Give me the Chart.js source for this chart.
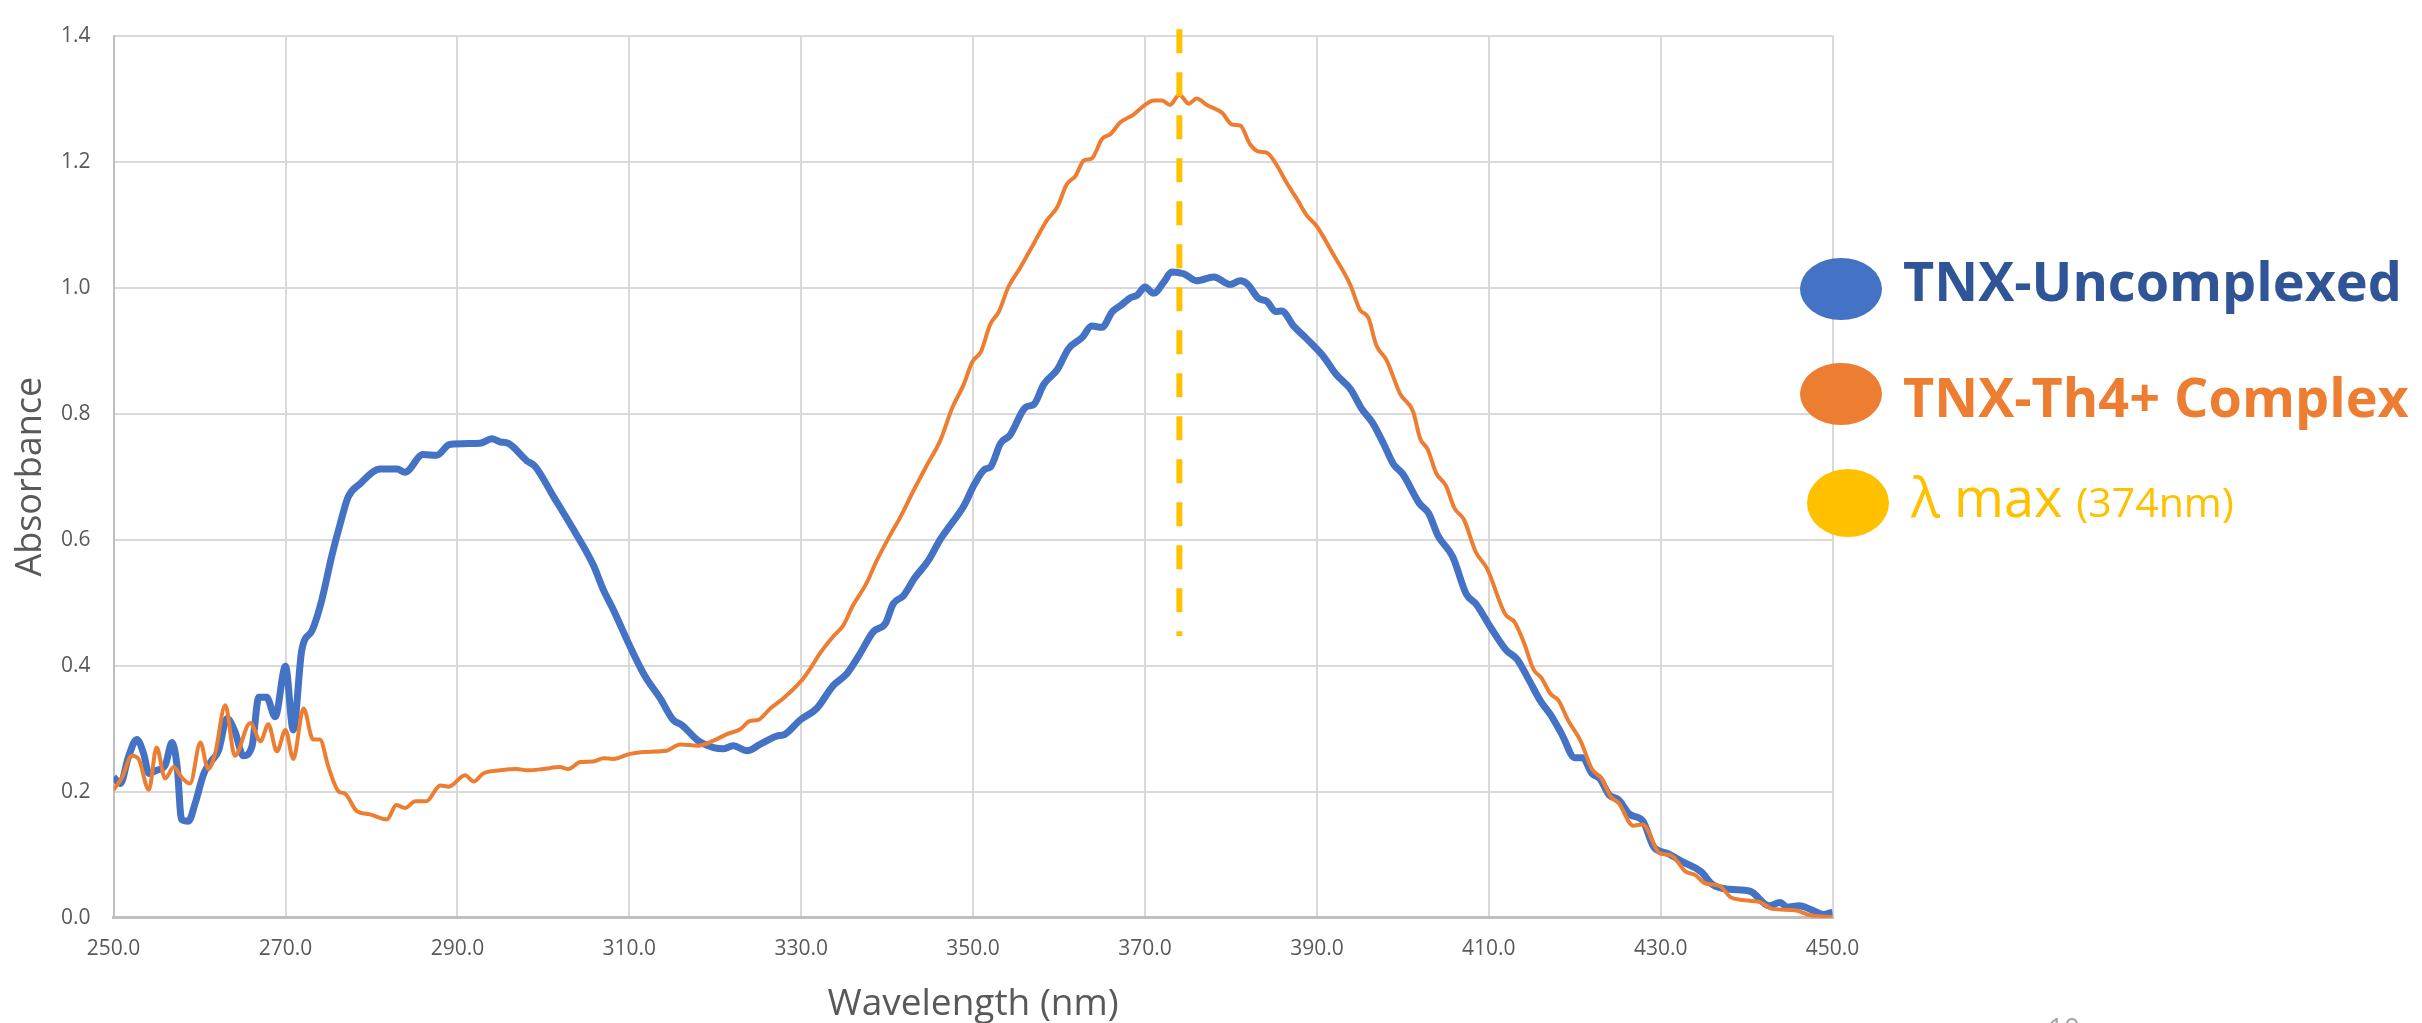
<!DOCTYPE html>
<html>
<head>
<meta charset="utf-8">
<script src="https://cdn.jsdelivr.net/npm/chart.js@4"></script>
<style>
  html, body { margin: 0; padding: 0; background: #fff; }
  canvas { display: block; }
</style>
</head>
<body>
<canvas id="uvChart" width="2422" height="1023"></canvas>
<script>
// wavelength (nm) / absorbance
const uncomplexedNm = [250, 250.8, 251.7, 252.7, 253.5, 254.1, 255, 256, 256.8, 257.4, 257.9, 258.7, 259.5, 260.5, 261.4, 262.2, 263.2, 264.1, 265.1, 266.1, 266.9, 267.8, 268.8, 270, 270.9, 271.9, 273.1, 274.2, 275.4, 276.4, 277.3, 278.7, 281, 283, 283.9, 286, 287.6, 289.1, 292.6, 294, 295, 295.9, 298.1, 299, 301.2, 303.5, 305.8, 307, 308.1, 310.1, 311.8, 313.6, 315.1, 316.1, 318, 319.8, 320.9, 322.1, 323.7, 325.2, 327.1, 328.1, 329.9, 331.8, 333.7, 335.3, 336.8, 338.4, 339.8, 340.7, 341.9, 343.2, 344.8, 346.2, 347.3, 348.9, 350.2, 351.4, 352, 353.2, 354.3, 356.1, 357.1, 358.2, 359.8, 361.1, 362.7, 363.8, 365, 366.2, 367.3, 368.3, 369.1, 370, 371, 372.2, 373.1, 374.5, 376, 378, 379.9, 381.1, 381.9, 383.2, 384.2, 385.2, 385.9, 387.3, 388.8, 390.8, 392.2, 393.9, 395.2, 396.5, 397.8, 398.9, 400, 401.9, 403, 404.1, 405.8, 407.4, 408.5, 410.2, 412, 413.3, 414.6, 416.1, 417.2, 418.5, 420, 420.9, 422, 422.9, 424, 425.1, 426.4, 427.9, 429.2, 430.8, 432.5, 434.7, 436, 438, 440.4, 442.6, 443.9, 444.7, 446.1, 447.8, 448.9, 450];
const uncomplexedAbs = [0.223, 0.213, 0.254, 0.283, 0.26, 0.229, 0.234, 0.242, 0.278, 0.239, 0.156, 0.153, 0.182, 0.229, 0.249, 0.265, 0.316, 0.296, 0.257, 0.272, 0.35, 0.35, 0.319, 0.399, 0.298, 0.425, 0.456, 0.503, 0.575, 0.627, 0.668, 0.689, 0.712, 0.712, 0.707, 0.735, 0.734, 0.751, 0.753, 0.76, 0.755, 0.753, 0.725, 0.717, 0.668, 0.616, 0.56, 0.52, 0.49, 0.43, 0.384, 0.348, 0.314, 0.306, 0.281, 0.27, 0.268, 0.273, 0.265, 0.275, 0.288, 0.291, 0.314, 0.332, 0.368, 0.387, 0.418, 0.454, 0.467, 0.498, 0.511, 0.539, 0.567, 0.601, 0.622, 0.653, 0.689, 0.712, 0.715, 0.753, 0.766, 0.81, 0.815, 0.846, 0.87, 0.903, 0.921, 0.939, 0.937, 0.962, 0.973, 0.984, 0.988, 1.001, 0.991, 1.009, 1.025, 1.022, 1.011, 1.017, 1.005, 1.011, 1.006, 0.983, 0.978, 0.962, 0.963, 0.939, 0.919, 0.89, 0.863, 0.839, 0.808, 0.785, 0.751, 0.72, 0.704, 0.658, 0.642, 0.606, 0.573, 0.513, 0.498, 0.461, 0.425, 0.41, 0.379, 0.342, 0.322, 0.291, 0.254, 0.254, 0.229, 0.221, 0.195, 0.187, 0.164, 0.154, 0.112, 0.102, 0.089, 0.073, 0.053, 0.045, 0.042, 0.019, 0.024, 0.017, 0.019, 0.011, 0.005, 0.009];

const complexNm = [250, 251, 252.1, 252.9, 254.1, 255, 256, 257, 257.9, 258.9, 260.1, 261, 261.8, 263, 264.1, 265.9, 267.1, 268, 269, 270, 270.9, 272.1, 273.2, 274, 275, 276.2, 276.9, 278.3, 279.8, 281.8, 282.9, 283.9, 285.1, 286.4, 288, 289, 290.9, 291.9, 293, 295, 296.9, 298.1, 300, 301.9, 302.9, 304.3, 305.8, 307, 308.1, 310.1, 311.6, 314.3, 315.9, 318, 319.8, 321.3, 322.9, 324, 325, 326.4, 327.9, 329.1, 330.2, 331, 332.2, 333.7, 334.9, 336, 337.6, 338.8, 340.3, 341.5, 343, 344.5, 346.2, 347.6, 348.9, 349.9, 350.9, 352, 353, 354.1, 355.5, 357.1, 358.6, 359.8, 360.9, 361.9, 362.9, 363.8, 365, 366, 367.1, 368.7, 370, 371, 372, 372.9, 374, 375.1, 376, 377.2, 379, 380.1, 381.1, 382.2, 383.2, 384.2, 385.3, 386.5, 387.7, 388.8, 390, 391.9, 393.9, 395, 396, 396.9, 398.1, 399.7, 401.2, 402, 402.9, 403.9, 405, 406, 407.1, 408.5, 409.8, 411.9, 413, 414.1, 415.2, 416.1, 417.2, 418.1, 419.2, 420.7, 422, 423.1, 424.2, 425.1, 426.8, 427.9, 429.9, 431.2, 432.9, 434, 435.1, 436.9, 438.2, 440.4, 441.7, 443, 445.6, 447.4, 450];
const complexAbs = [0.203, 0.223, 0.257, 0.252, 0.203, 0.27, 0.221, 0.239, 0.223, 0.213, 0.278, 0.236, 0.26, 0.337, 0.257, 0.309, 0.28, 0.307, 0.264, 0.298, 0.252, 0.332, 0.283, 0.283, 0.239, 0.2, 0.197, 0.169, 0.164, 0.156, 0.179, 0.174, 0.185, 0.185, 0.21, 0.208, 0.226, 0.216, 0.229, 0.234, 0.236, 0.234, 0.236, 0.239, 0.236, 0.247, 0.248, 0.253, 0.252, 0.26, 0.263, 0.265, 0.275, 0.273, 0.281, 0.291, 0.299, 0.312, 0.314, 0.332, 0.348, 0.363, 0.379, 0.394, 0.42, 0.446, 0.464, 0.495, 0.531, 0.567, 0.606, 0.635, 0.676, 0.715, 0.758, 0.81, 0.846, 0.882, 0.898, 0.942, 0.962, 1.001, 1.032, 1.071, 1.107, 1.128, 1.164, 1.177, 1.202, 1.205, 1.236, 1.244, 1.262, 1.275, 1.29, 1.297, 1.297, 1.29, 1.306, 1.292, 1.3, 1.29, 1.277, 1.259, 1.257, 1.228, 1.216, 1.214, 1.195, 1.166, 1.14, 1.115, 1.097, 1.053, 1.004, 0.965, 0.952, 0.909, 0.885, 0.831, 0.803, 0.761, 0.743, 0.705, 0.686, 0.65, 0.632, 0.58, 0.554, 0.482, 0.469, 0.436, 0.394, 0.381, 0.355, 0.345, 0.314, 0.28, 0.236, 0.221, 0.192, 0.182, 0.146, 0.148, 0.102, 0.099, 0.073, 0.068, 0.055, 0.05, 0.032, 0.027, 0.024, 0.014, 0.012, 0.004, 0.001];

// lambda max marker
const lambdaMaxNm = 374;
const lambdaLineAbs = [1.41, 0.447];

const seriesLabels = ['TNX-Uncomplexed', 'TNX-Th4+ Complex'];
const lambdaLabel = 'λ max';
const lambdaValueLabel = '(374nm)';

const xTicks = [250, 270, 290, 310, 330, 350, 370, 390, 410, 430, 450];
const yTicks = [0, 0.2, 0.4, 0.6, 0.8, 1.0, 1.2, 1.4];

const BLUE = '#4472C4';
const BLUE_TEXT = '#2F5597';
const ORANGE = '#ED7D31';
const GOLD = '#FFC000';
const GREY = '#595959';

const toPoints = (xs, ys) => xs.map((x, i) => ({ x, y: ys[i] }));

// legend on the right, drawn by hand (ellipse markers + coloured text)
const sideLegend = {
  id: 'sideLegend',
  afterDraw(chart) {
    const c = chart.ctx;
    c.save();
    const dot = (cx, cy, rx, ry, color) => {
      c.beginPath();
      c.ellipse(cx, cy, rx, ry, 0, 0, Math.PI * 2);
      c.fillStyle = color;
      c.fill();
    };
    dot(1841, 289, 41, 31, BLUE);
    dot(1841, 394, 41, 31, ORANGE);
    dot(1848, 503, 41, 34, GOLD);

    c.textBaseline = 'alphabetic';
    c.textAlign = 'left';
    c.font = 'bold 54px "Open Sans"';
    c.fillStyle = BLUE_TEXT;
    c.fillText(seriesLabels[0], 1903, 301);
    c.fillStyle = ORANGE;
    c.fillText(seriesLabels[1], 1903, 417);

    c.fillStyle = GOLD;
    c.font = '54px "Open Sans"';
    c.fillText(lambdaLabel, 1911, 517);
    const w = c.measureText(lambdaLabel + ' ').width;
    c.font = '41px "Open Sans"';
    c.fillText(lambdaValueLabel, 1911 + w, 517);

    // slide number, mostly cut off at the bottom
    c.fillStyle = '#A6A6A6';
    c.font = '28px "Open Sans"';
    c.textAlign = 'center';
    c.fillText('10', 2064, 1038);
    c.restore();
  }
};

const ctx = document.getElementById('uvChart').getContext('2d');
const chart = new Chart(ctx, {
  type: 'line',
  data: {
    datasets: [
      {
        label: lambdaLabel,
        data: lambdaLineAbs.map((y) => ({ x: lambdaMaxNm, y })),
        borderColor: GOLD,
        borderWidth: 6,
        borderDash: [24, 19],
        pointRadius: 0,
        clip: false,
        order: 0,
      },
      {
        label: seriesLabels[1],
        data: toPoints(complexNm, complexAbs),
        borderColor: ORANGE,
        borderWidth: 4,
        pointRadius: 0,
        cubicInterpolationMode: 'monotone',
        order: 1,
      },
      {
        label: seriesLabels[0],
        data: toPoints(uncomplexedNm, uncomplexedAbs),
        borderColor: BLUE,
        borderWidth: 7,
        pointRadius: 0,
        cubicInterpolationMode: 'monotone',
        order: 2,
      },
    ],
  },
  options: {
    responsive: false,
    animation: false,
    devicePixelRatio: 1,
    layout: { padding: { left: 0, top: 14.7, right: 589.4, bottom: 0 } },
    plugins: {
      legend: { display: false },
      tooltip: { enabled: false },
    },
    scales: {
      x: {
        type: 'linear',
        min: 250,
        max: 450,
        afterBuildTicks: (scale) => { scale.ticks = xTicks.map((v) => ({ value: v })); },
        afterFit: (scale) => { scale.height = 105.3; },
        grid: { color: '#D9D9D9', lineWidth: 2, drawTicks: false },
        border: { color: '#BFBFBF', width: 3 },
        ticks: {
          padding: 19,
          color: GREY,
          font: { family: 'Open Sans', size: 21 },
          maxRotation: 0,
          callback: (v) => Number(v).toFixed(1),
        },
        title: {
          display: true,
          text: 'Wavelength (nm)',
          color: GREY,
          font: { family: 'Open Sans', size: 37, lineHeight: 1 },
          padding: { top: 0, bottom: 0 },
        },
      },
      y: {
        type: 'linear',
        min: 0,
        max: 1.4,
        afterBuildTicks: (scale) => { scale.ticks = yTicks.map((v) => ({ value: v })); },
        afterFit: (scale) => { scale.width = 113.6; },
        grid: { color: '#D9D9D9', lineWidth: 2, drawTicks: false },
        border: { color: '#BFBFBF', width: 2 },
        ticks: {
          padding: 23,
          color: GREY,
          font: { family: 'Open Sans', size: 21 },
          callback: (v) => Number(v).toFixed(1),
        },
        title: {
          display: true,
          text: 'Absorbance',
          color: GREY,
          font: { family: 'Open Sans', size: 36 },
          padding: { top: 9, bottom: 0 },
        },
      },
    },
  },
  plugins: [sideLegend],
});
</script>
</body>
</html>
